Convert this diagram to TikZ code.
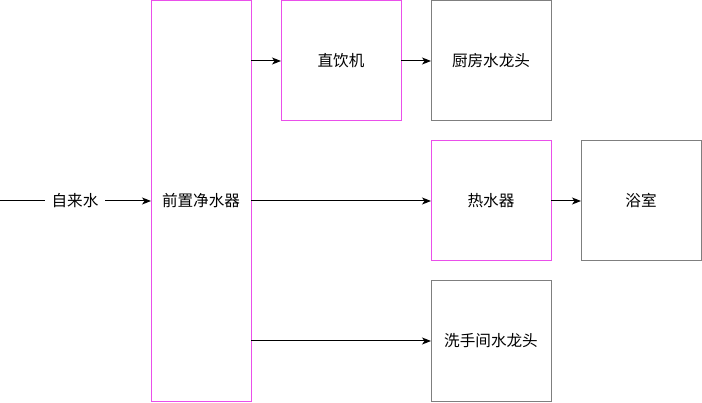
\documentclass[tikz,border=0pt]{standalone}
\usepackage{fontspec}
\usepackage{tikz}
\usetikzlibrary{arrows.meta, positioning}
\newfontfamily\cjk{Noto Sans CJK SC}
\definecolor{BoxPink}{HTML}{EA4FEA}
\definecolor{BoxGray}{HTML}{7F7F7F}

\begin{document}
\begin{tikzpicture}[x=1pt, y=1pt, font=\cjk\fontsize{15.6}{18}\selectfont,
    unit/.style={draw=BoxGray, line width=1pt, minimum width=120pt, minimum height=120pt, outer sep=0pt, inner sep=0pt},
    pinkunit/.style={unit, draw=BoxPink},
    flow/.style={line width=1pt, -{Stealth[length=9pt, width=7pt, inset=2.5pt]}}]
    \useasboundingbox (0,0) rectangle (702,402);
    % Nodes
    \node (pre) [pinkunit, minimum width=100pt, minimum height=400pt] at (201,201) {前置净水器};
    \node (drink) [pinkunit] at (341,341) {直饮机};
    \node (kitchen) [unit, right=30pt of drink] {厨房水龙头};
    \node (heater) [pinkunit, below=20pt of kitchen] {热水器};
    \node (bath) [unit, right=30pt of heater] {浴室};
    \node (toilet) [unit, below=20pt of heater] {洗手间水龙头};
    \coordinate (in) at (0,201);
    \node (tap) [inner sep=0pt, outer sep=0pt, minimum width=60pt] at (75,201) {自来水};
    
    % Paths
    \draw[line width=1pt] (in) -- (tap.west);
    \draw[flow] (tap.east) -- (pre.west);
    \draw[flow] (pre.east |- drink.west) -- (drink.west);
    \draw[flow] (drink.east) -- (kitchen.west);
    \draw[flow] (pre.east |- heater.west) -- (heater.west);
    \draw[flow] (heater.east) -- (bath.west);
    \draw[flow] (pre.east |- toilet.west) -- (toilet.west);
\end{tikzpicture}
\end{document}
